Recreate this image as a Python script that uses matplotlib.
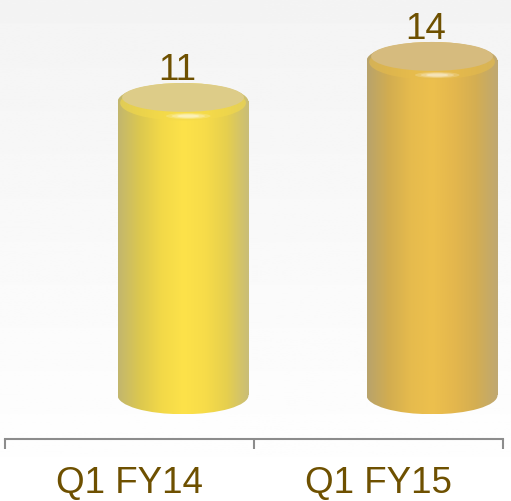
import numpy as np
import matplotlib.pyplot as plt
from matplotlib.patches import Ellipse
from matplotlib.colors import LinearSegmentedColormap

categories = ['Q1 FY14', 'Q1 FY15']
values = [11, 14]
axis_min = -10.45  # value where the cylinders stand (3D floor)

# look of each cylinder: side shading left->right, flat top colour
side_colors = [
    ['#c2b66e', '#dcc84f', '#f3d948', '#fde24a', '#f7dc49', '#e6cf4e', '#c9bd78'],
    ['#b8a36c', '#d2ad50', '#e6bb4d', '#edc04d', '#e4b74d', '#d4ae52', '#bfa872'],
]
top_colors = ['#ddcc88', '#d6bb7e']
rim_colors = ['#f4da4a', '#e6bc4c']
text_col = '#6e5000'

fig = plt.figure(figsize=(5.11, 5.01), dpi=100)

# faint grey background gradient
bg = fig.add_axes([0, 0, 1, 1], zorder=0)
bg.imshow(np.linspace(0.955, 1.0, 256)[:, None], cmap='gray', vmin=0, vmax=1,
          aspect='auto', extent=[0, 1, 0, 1])
bg.axis('off')

ax = fig.add_axes([5 / 511, 62 / 501, 498 / 511, 439 / 501], zorder=1)
ax.patch.set_alpha(0)

x = np.arange(len(categories))
depth = 0.215     # cylinders sit a bit right of their category (3D depth)
width = 0.526
ry = 1.39         # vertical half-size of the elliptic caps, in value units


def cylinder(xc, base, top, cols, top_col, rim_col):
    x0, x1 = xc - width / 2, xc + width / 2
    cmap = LinearSegmentedColormap.from_list('side', cols)
    g = np.linspace(0, 1, 256)[None, :]
    # body
    ax.imshow(g, cmap=cmap, extent=[x0, x1, base, top], aspect='auto',
              interpolation='bicubic', zorder=2)
    # rounded bottom
    im = ax.imshow(g, cmap=cmap, extent=[x0, x1, base - ry, base + ry],
                   aspect='auto', interpolation='bicubic', zorder=2)
    e = Ellipse((xc, base), width, 2 * ry, fc='none', ec='none')
    ax.add_patch(e)
    im.set_clip_path(e)
    # top rim
    im = ax.imshow(g, cmap=cmap, extent=[x0, x1, top - ry, top + ry],
                   aspect='auto', interpolation='bicubic', zorder=3)
    e = Ellipse((xc, top), width, 2 * ry, fc='none', ec='none')
    ax.add_patch(e)
    im.set_clip_path(e)
    ax.add_patch(Ellipse((xc, top - ry * 0.05), width * 0.96, 1.85 * ry,
                         fc=rim_col, ec='none', alpha=0.6, zorder=3))
    # flat top face
    ax.add_patch(Ellipse((xc, top + ry * 0.24), width * 0.93, 1.52 * ry,
                         fc=top_col, ec='none', zorder=4))
    # specular highlight on the rim, soft edged
    for k, a in [(1.0, 0.18), (0.75, 0.25), (0.5, 0.35)]:
        ax.add_patch(Ellipse((xc + width * 0.04, top - ry * 0.74), width * 0.34 * k,
                             ry * 0.32 * k, fc='white', ec='none', alpha=a, zorder=4))


for i, v in enumerate(values):
    xc = x[i] + depth
    cylinder(xc, axis_min, v, side_colors[i], top_colors[i], rim_colors[i])
    ax.text(xc - 0.025, v + ry + 0.2, str(v), ha='center', va='baseline',
            fontsize=26.5, color=text_col, family='Liberation Sans', zorder=5)

ax.set_xlim(-0.5, len(categories) - 0.5)
ax.set_ylim(-13.65, 18.46)

for s in ['top', 'right', 'left']:
    ax.spines[s].set_visible(False)
ax.spines['bottom'].set_color('#8c8c8c')
ax.spines['bottom'].set_linewidth(1.5)
ax.set_yticks([])
ax.set_xticks(np.arange(len(categories) + 1) - 0.5)
ax.set_xticklabels([])
ax.tick_params(axis='x', which='major', length=7, width=1.5, color='#8c8c8c')
ax.set_xticks(x, minor=True)
ax.set_xticklabels(categories, minor=True, fontsize=26.5, color=text_col,
                   family='Liberation Sans')
ax.tick_params(axis='x', which='minor', length=0, pad=19.5)

fig.savefig('out.png', dpi=100)
